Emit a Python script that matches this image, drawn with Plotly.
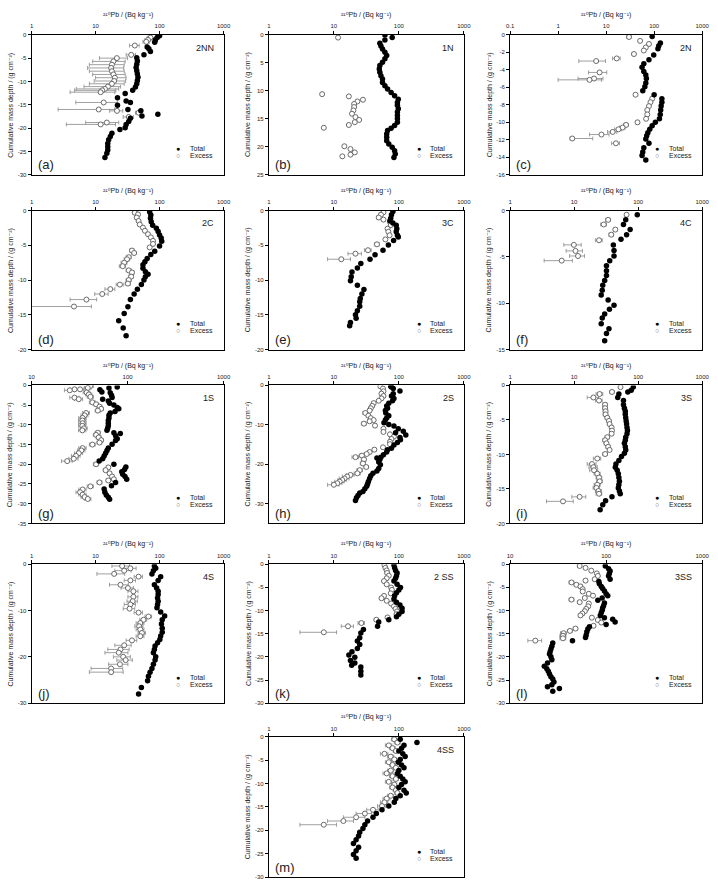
import math
import plotly.graph_objects as go

W, H = 718, 882

# ---------------- data (cumulative mass depth in g cm-2, 210Pb in Bq kg-1) ----------------
A_TOT_D = [-0.2,-0.6,-1.1,-1.6,-2.6,-3.0,-3.6,-4.3,-4.9,-5.6,-6.3,-7.0,-7.7,-8.4,-9.1,-9.8,-10.5,-11.2,
           -11.9,-12.6,-13.5,-14.2,-14.5,-15.1,-16.0,-16.3,-17.0,-17.4,-17.9,-18.6,-19.2,-19.9,-20.3,-21.1,
           -21.8,-22.5,-23.3,-24.0,-24.7,-25.4,-26.3]
A_TOT_V = [100,92,86,84,64,68,72,57,44,45,44,43,44,45,46,45,44,42,
           38,29,22,30,35,22,32,51,94,53,35,33,30,29,24,18,17,16,15.5,15.5,15.5,15,14]
A_EXC_D = [-0.2,-0.6,-1.1,-1.5,-2.3,-4.3,-5.0,-5.7,-6.4,-7.1,-7.8,-8.5,-9.2,-9.9,-10.5,-11.1,-11.6,-11.9,
           -12.3,-14.5,-16.0,-16.3,-16.7,-17.6,-18.8,-19.2]
A_EXC_V = [79,72,66,62,41,36,21.5,19,18,17.5,18,19,20,19.5,18,15.6,14,12.7,12,13.4,11.2,21.6,47,33,15,12]
A_EXC_E = [8,8,7,7,7,6,10,10,10,10,10,10,10,10,10,9,9,8,8,8.5,8.6,5,5,6,8,8.5]

B_TOT_D = [0.06,0.5,0.95,1.5,2.0,2.55,3.1,3.7,4.3,4.9,5.5,6.1,6.7,7.3,7.9,8.5,9.1,9.7,10.3,10.9,
           11.5,12.1,12.6,13.2,13.8,14.4,15.0,15.6,16.2,16.7,17.1,17.7,18.3,18.9,19.5,20.1,20.7,21.3,21.9]
B_TOT_V = [61,79,61,51,53,56,61,65,61,56,51,50,51,53,56,56,61,67,76,86,
           98,95,95,98,95,95,95,95,86,76,67,65,65,65,70,79,86,88,84]
B_EXC_D = [0.5,10.6,11.0,11.6,11.9,12.35,12.9,13.5,14.1,14.7,15.2,15.6,16.1,16.6,19.9,20.4,21.0,21.4,21.7]
B_EXC_V = [11.6,6.6,17,28,23,20.5,20.5,20,19,21.5,24.5,21,17,7,14.5,18,21,18,13.5]
B_EXC_E = [0,0,0,0,0,0,0,0,0,0,0,0,0,0,0,0,0,0,0]

C_TOT_D = [-0.2,-0.95,-1.25,-1.6,-2.3,-2.85,-3.3,-3.7,-4.2,-4.6,-5.0,-5.5,-5.95,-6.4,-6.85,-7.3,
           -7.7,-8.15,-8.6,-9.1,-9.6,-10.0,-10.4,-10.8,-11.2,-11.55,-11.9,-12.4,-12.9,-13.4,-13.8,-14.3]
C_TOT_V = [91,135,125,120,98,78,61,56,61,67,69,67,64,58,100,145,145,140,137,134,129,106,91,81,74,70,67,78,61,58,56,67]
C_EXC_D = [-0.25,-0.7,-1.05,-1.45,-1.8,-2.2,-2.7,-3.0,-4.3,-5.0,-5.15,-6.85,-7.3,-7.7,-8.15,-8.6,-9.1,-9.6,
           -10.0,-10.3,-10.6,-10.8,-11.1,-11.4,-11.85,-12.4]
C_EXC_V = [30,51,78,67,61,38,16.6,6.2,7.3,5.6,4.5,41,91,84,78,72,72,68,45,26,22,18,13.7,8,1.97,16]
C_EXC_E = [3,3,3,3,3,3,3,3.5,3,3,3.5,3,4,4,4,4,4,4,3,3,3,3,3,3.5,3.3,3]
C_EXC_EM = [3,3,3,3,3,3,3,3.5,3,3,3.5,3,4,4,4,4,4,4,3,3,3,3,3,3.5,0.2,3]

D_TOT_D = [-0.2,-0.65,-1.1,-1.6,-2.1,-2.55,-3.0,-3.5,-3.95,-4.4,-5.1,-5.85,-6.3,-6.9,-7.35,-7.8,-8.3,-8.8,
           -9.15,-9.5,-10.0,-10.65,-11.3,-12.0,-12.8,-13.85,-14.8,-15.85,-16.9,-18.0]
D_TOT_V = [70,73,72,74,78,89,95,100,106,108,100,84,73,64,59,55,55,60,66,60,57,52,45,40,35,32,28,23,27,30]
D_EXC_D = [-0.3,-0.55,-1.0,-1.5,-2.0,-2.45,-2.9,-3.4,-3.85,-4.35,-4.8,-5.3,-5.75,-6.1,-6.7,-7.0,-7.5,-8.0,
           -8.6,-8.9,-9.5,-10.0,-10.5,-10.65,-11.3,-12.0,-12.8,-13.8]
D_EXC_V = [41,46,44,47,49,55,59,66,73,79,79,70,37,40,33,31,28,26.5,33,37,36,33,32,24,17,12.7,7.2,4.6]
D_EXC_E = [3,3,3,3,3,3,3,3,3,3,3,3,3,3,3,3,3,3,3,3,3,3,3,3,3,3,3.2,4]

E_TOT_D = [-0.15,-0.6,-1.1,-1.45,-1.8,-2.1,-2.6,-3.05,-3.55,-3.8,-4.3,-4.95,-5.7,-6.35,-7.0,-7.6,-8.25,
           -8.85,-9.5,-10.1,-10.75,-11.35,-12.0,-12.65,-13.1,-13.75,-14.4,-15.0,-15.5,-16.1,-16.55]
E_TOT_V = [81,77,75,73,81,91,93,91,95,98,83,69,57,43,36,26,23,19,18.5,18,23,29,27,25.5,25,25,23,21.5,22,18,17.5]
E_EXC_D = [-0.25,-0.6,-1.0,-1.3,-1.65,-2.1,-2.6,-3.05,-3.55,-4.15,-4.85,-5.7,-6.2,-7.0]
E_EXC_V = [58,53,49,58,73,75,67,69,72,62,46,33.5,21.5,13]
E_EXC_E = [3,3,3,3,3,3,3,3,3,3,4,4,5,5]

F_TOT_D = [-0.45,-1.0,-1.5,-2.05,-2.6,-3.1,-3.7,-4.3,-4.9,-5.4,-5.95,-6.5,-7.0,-7.55,-8.05,-8.6,-9.1,
           -9.65,-10.2,-10.65,-11.15,-11.6,-12.2,-12.75,-13.25,-14.05]
F_TOT_V = [97,64,59,75,66,54,41,42,42,36,32,32,32,30,28,27.5,26.5,34,42,35.6,30,27.5,26.5,35,32,30]
F_EXC_D = [-0.45,-1.0,-1.5,-2.05,-2.6,-3.2,-3.7,-4.35,-4.9,-5.4]
F_EXC_V = [66,34,29,44,38,24.5,9.9,10.5,11.5,6.4]
F_EXC_E = [3,3,3,3,3,3,3,3,3,3]

G_TOT_D = [-0.4,-0.65,-1.1,-1.65,-1.9,-2.5,-3.1,-3.5,-3.95,-4.55,-5.0,-5.6,-5.95,-6.6,-7.0,-7.6,-8.25,
           -8.9,-9.6,-10.25,-10.9,-11.4,-12.0,-12.2,-12.8,-13.5,-14.0,-14.9,-15.9,-16.5,-17.2,-17.9,-18.6,
           -19.2,-20.0,-20.7,-21.3,-21.9,-22.5,-23.1,-23.8,-24.6,-25.45,-26.3,-27.1,-27.8,-28.35,-28.9]
G_TOT_V = [78,64,51.5,54,66,68,69,55,63,65,72,78,81,74,66,64,64,63,63,63,62,61,72,84,75,78,75,69,63,61,
           59,57,55,50.6,72,96,93,87,89,94,98,75,68,57,58,60,63,65]
G_EXC_D = [-0.15,-0.65,-1.0,-1.0,-1.25,-1.8,-2.3,-2.9,-3.1,-3.5,-4.3,-4.8,-5.4,-5.95,-6.4,-7.0,-7.6,-8.25,
           -8.9,-9.6,-10.25,-10.9,-11.4,-12.0,-12.55,-13.2,-13.9,-14.5,-15.0,-15.9,-16.5,-17.2,-17.9,-18.6,
           -19.2,-20.0,-20.8,-21.5,-22.3,-23.1,-23.8,-24.1,-24.6,-25.6,-26.4,-27.1,-27.7,-28.3,-28.8]
G_EXC_V = [41,38.5,32,28,25,37.5,39.5,41,28,31,43,47,51,53,49,37,35.7,34,33.8,34,33.8,35,33.8,49,47,
           50,53,51,43,34,33,31,29,27.5,23.5,47,63,59,65,69,72,63,51,41,34,32,34,35.7,38.5]
G_EXC_E = [3,3,3,3,3,3,3,3,3,3,3,3,3,3,3,3,3,3,3,3,3,3,3,3,3,
           3,3,3,3,3,3,3,3,3,3,3,3,3,3,3,3,3,3,3,3,3,3,3,3]

H_TOT_D = [-0.25,-0.4,-0.8,-1.4,-2.1,-2.7,-3.3,-3.9,-4.5,-5.2,-5.8,-6.4,-7.0,-7.7,-8.3,-8.8,-9.5,-9.9,
           -10.3,-11.0,-11.6,-12.0,-12.6,-13.2,-13.8,-14.5,-15.1,-15.95,-16.3,-16.9,-17.6,-18.2,-18.4,-18.8,
           -19.4,-20.1,-21.1,-21.7,-22.3,-22.9,-23.6,-24.4,-25.0,-25.6,-26.2,-26.9,-27.3,-27.9,-28.5,-29.2]
H_TOT_V = [75,77,82,104,82,77,84,80,70,65,67,62,63,70,65,62,59,70,84,98,117,89,128,104,106,95,84,77,67,65,
           58,53,46,51,49,52,49,46,40,37,35.5,34,33,32,30,28,25,23.5,22.3,21.5]
H_EXC_D = [-0.25,-0.8,-1.5,-2.1,-2.7,-3.3,-3.9,-4.5,-5.2,-5.8,-6.4,-7.0,-7.7,-8.3,-8.8,-9.1,-9.7,-10.2,
           -11.0,-11.8,-12.4,-13.0,-13.6,-14.3,-14.9,-15.7,-16.3,-16.9,-17.4,-17.8,-18.2,-18.8,-19.8,-20.7,
           -21.5,-22.3,-22.7,-23.1,-23.6,-24.0,-24.4,-24.8,-25.2]
H_EXC_V = [52,57,58,54,58,54,49,41,39,37,35.5,30.5,34,37,41,35.5,29,43,58,58,73,84,77,73,73,57,42,35.5,
           32,27,21.5,29,28,31.5,25,23,18,16,14.6,13.5,12.3,11.3,10]
H_EXC_E = [2.5,2.5,2.5,2.5,2.5,2.5,2.5,2.5,2.5,2.5,2.5,2.5,2.5,2.5,2.5,2.5,2.5,2.5,2.5,2.5,2.5,2.5,
           2.5,2.5,2.5,2.5,2.5,2.5,2.5,2.5,2.5,2.5,2.5,2.5,2.5,2.5,2.5,2.5,2.5,2,2,2,2]

I_TOT_D = [-0.25,-0.7,-0.95,-1.25,-1.75,-2.2,-2.8,-3.3,-3.75,-4.2,-4.7,-5.15,-5.6,-6.1,-6.55,-7.0,-7.5,
           -7.95,-8.4,-8.9,-9.35,-9.85,-10.3,-10.9,-11.4,-11.85,-12.3,-12.8,-13.35,-13.9,-14.4,-14.85,
           -15.3,-15.7,-16.15,-16.7,-17.3,-18.0]
I_TOT_V = [84,78,69,50,48,59,59,61,63,63,64,65,66,67,68,67,64,63,61,63,64,61,55,50,45,44,47,49,50,51,
           50,49,51,52.5,39,31,28,25.5]
I_EXC_D = [-0.25,-0.95,-1.25,-1.75,-2.2,-2.8,-3.3,-3.75,-4.2,-4.7,-5.15,-5.6,-6.1,-6.55,-7.0,-7.5,-7.95,
           -8.4,-8.9,-9.35,-9.95,-10.6,-11.4,-11.85,-12.3,-12.8,-13.35,-13.9,-14.4,-14.85,-15.3,-15.7,
           -16.15,-16.8]
I_EXC_V = [53,39,25,20,24.5,30.5,30.5,31,31,33,35,35.8,38.5,39,38.5,33,30.5,32,34,35.8,30.5,23,19,20,
           20.5,23,24.5,25,23,22.3,24,24.5,12.2,6.7]
I_EXC_E = [3,3,3,4,3,2.5,2.5,2.5,2.5,2.5,2.5,2.5,2.5,2.5,2.5,2.5,2.5,2.5,2.5,2.5,2.5,3,3,3,3,2.5,
           2.5,2.5,2.5,2.5,2.5,2.5,3,3]

J_TOT_D = [-0.4,-0.9,-1.4,-2.1,-2.7,-3.5,-4.45,-5.15,-5.85,-6.55,-7.3,-8.0,-8.7,-9.4,-10.3,-11.2,-12.0,
           -12.9,-13.85,-14.7,-15.5,-16.25,-16.95,-17.65,-18.4,-19.1,-20.0,-20.7,-21.6,-22.5,-23.3,-24.2,
           -25.15,-26.6,-28.0]
J_TOT_V = [83,87,80,76,104,95,83,90,95,95,93,95,93,91,104,120,110,107,110,110,104,101,93,85,83,80,87,
           85,80,76,71,67,65,52,47]
J_EXC_D = [-0.4,-0.9,-1.4,-2.1,-2.7,-3.5,-4.45,-5.15,-5.85,-7.05,-8.0,-8.7,-9.6,-10.45,-11.3,-12.0,
           -12.7,-13.4,-14.1,-14.85,-15.55,-16.45,-17.5,-18.4,-19.1,-20.0,-20.7,-21.6,-22.5,-23.3]
J_EXC_V = [26,35,28,19.5,47,35,24.5,32,39,39,38,35,34,47,67,56,50,48,50,53,50,37,28,24.5,23,27,29.5,
           24,17.5,17.5]
J_EXC_E = [8,8,8,9,7,7,8,7,7,7,7,7,7,7,8,7,7,7,7,7,7,7,8,9,9,8,8,8,9,9.5]

K_TOT_D = [-0.2,-0.8,-1.35,-1.9,-2.5,-3.05,-3.65,-4.35,-5.05,-5.55,-6.15,-6.8,-7.5,-8.2,-8.8,-9.5,
           -10.2,-10.8,-11.35,-12.0,-12.5,-13.4,-14.1,-14.85,-15.9,-16.6,-17.35,-18.2,-18.9,-19.6,-20.1,
           -20.8,-21.3,-21.8,-22.2,-23.1,-23.9]
K_TOT_V = [84,86,89,94,92,89,84,94,106,100,92,86,84,92,104,112,112,100,92,70,49,47,28.5,26,25,23,25,
           23,19,17,21,18,21,18.8,26,26,26]
K_EXC_D = [-0.2,-0.8,-1.35,-1.9,-2.5,-3.05,-3.65,-4.35,-5.05,-5.55,-6.3,-6.85,-7.35,-7.9,-8.5,-9.1,
           -9.65,-10.2,-10.8,-11.5,-12.0,-12.7,-13.4,-14.7]
K_EXC_V = [60,62,65,66,70,65,59,65,76,78,75,59,54,65,76,84,89,94,92,67,45,26.5,16.5,7]
K_EXC_E = [3,3,3,3,3,3,3,3,3,3,3,3,3,3,3,3,3,3,3,3,3,3,3.5,4]

L_TOT_D = [-0.4,-1.0,-1.5,-2.0,-2.55,-3.25,-3.75,-4.25,-4.8,-5.25,-5.8,-6.4,-6.8,-7.3,-7.8,-8.4,-8.95,
           -9.45,-9.95,-10.5,-11.05,-11.55,-11.9,-12.5,-13.0,-13.5,-14.0,-14.6,-15.3,-15.8,-16.5,-17.0,
           -17.7,-18.3,-18.9,-19.4,-20.0,-20.6,-21.3,-22.0,-22.55,-23.1,-23.7,-24.3,-24.8,-25.4,-26.0,
           -26.45,-26.8,-27.4]
L_TOT_V = [98,106,110,108,106,110,84,85,89,92,96,100,104,91,82,96,94,92,91,89,87,96,117,124,100,67,
           64.5,63,62,61,44.6,27.8,27.2,26.6,26.1,25.7,26.6,27.2,24.5,22.7,24.1,25,25.7,26.6,27.8,28.6,
           27.2,24.5,32.6,27.8]
L_EXC_D = [-0.4,-0.8,-1.4,-2.0,-2.55,-3.25,-3.55,-3.95,-4.45,-4.8,-5.4,-5.9,-6.4,-6.8,-7.3,-7.65,-8.2,
           -8.5,-9.1,-9.65,-10.15,-10.65,-11.05,-11.55,-12.05,-12.6,-13.3,-13.9,-14.4,-14.9,-15.45,-16.0,-16.5]
L_EXC_V = [53,61,70,80,82,76,61,43.6,49,54,57,57,66,73,60,43.6,53,66,65,62,60,56.6,54,71,82,89,74,48,
           42,36,35.5,35.5,18.3]
L_EXC_E = [2.5,2.5,2.5,2.5,2.5,2.5,2.5,2.5,2.5,2.5,2.5,2.5,2.5,2.5,2.5,2.5,2.5,2.5,2.5,2.5,2.5,2.5,
           2.5,2.5,2.5,2.5,2.5,2.5,2.5,2.5,2.5,2.5,3]

M_TOT_D = [-0.5,-1.2,-1.8,-2.4,-3.0,-3.6,-4.2,-4.8,-5.4,-6.0,-6.6,-7.2,-7.8,-8.4,-9.0,-9.6,-10.2,-10.8,
           -11.4,-12.0,-12.6,-13.2,-14.0,-14.8,-15.6,-16.4,-17.2,-18.0,-18.8,-19.6,-20.4,-21.2,-22.0,-22.8,
           -23.6,-24.4,-25.2,-26.0]
M_TOT_V = [105,190,120,110,100,115,125,105,98,110,120,100,95,105,115,125,110,100,120,130,105,90,85,70,
           55,45,40,33,30,28,25,24,22,20,24,22,20,22]
M_EXC_D = [-0.5,-1.2,-1.8,-2.4,-3.0,-3.6,-4.2,-4.8,-5.4,-6.0,-6.6,-7.2,-7.8,-8.4,-9.0,-9.6,-10.2,-10.8,
           -11.4,-12.0,-12.6,-13.2,-14.0,-14.8,-15.6,-16.4,-17.2,-18.0,-18.8]
M_EXC_V = [85,95,70,80,90,60,75,85,70,80,90,75,65,80,90,70,85,80,90,95,75,65,60,55,40,30,22,14,7]
M_EXC_E = [8,10,8,8,8,8,8,8,8,8,8,8,8,8,8,8,8,8,8,8,8,8,8,8,8,8,8,6,4]

# ---------------- panel definitions ----------------
SITES = ["2NN", "1N", "2N", "2C", "3C", "4C", "1S", "2S", "3S", "4S", "2 SS", "3SS", "4SS"]
LETTERS = ["(a)", "(b)", "(c)", "(d)", "(e)", "(f)", "(g)", "(h)", "(i)", "(j)", "(k)", "(l)", "(m)"]
X_TITLE = "²¹⁰Pb / (Bq kg⁻¹)"
Y_TITLE = "Cumulative mass depth / (g cm⁻²)"
X_TICKS = {
    "std": [1, 10, 100, 1000],
    "wide": [0.1, 1, 10, 100, 1000],
    "narrow": [10, 100, 1000],
}
Y_TICKS = {
    "a": [0, -5, -10, -15, -20, -25, -30],
    "b": [0, 5, 10, 15, 20, 25],
    "c": [0, -2, -4, -6, -8, -10, -12, -14, -16],
    "d": [0, -5, -10, -15, -20],
    "e": [0, -5, -10, -15, -20],
    "f": [0, -5, -10, -15],
    "g": [0, -5, -10, -15, -20, -25, -30, -35],
    "h": [0, -10, -20, -30],
    "i": [0, -5, -10, -15, -20],
    "j": [0, -10, -20, -30],
    "k": [0, -5, -10, -15, -20, -25, -30],
    "l": [0, -5, -10, -15, -20, -25, -30],
    "m": [0, -5, -10, -15, -20, -25, -30],
}
Y_RANGE = {"a": [-30, 0], "b": [25, 0], "c": [-16, 0], "d": [-20, 0], "e": [-20, 0], "f": [-15, 0],
           "g": [-35, 0], "h": [-35, 0], "i": [-20, 0], "j": [-30, 0], "k": [-30, 0], "l": [-30, 0],
           "m": [-30, 0]}
X_KIND = {"a": "std", "b": "std", "c": "wide", "d": "std", "e": "std", "f": "std", "g": "narrow",
          "h": "std", "i": "std", "j": "std", "k": "std", "l": "narrow", "m": "std"}
DATA = {
    "a": (A_TOT_D, A_TOT_V, A_EXC_D, A_EXC_V, A_EXC_E, A_EXC_E),
    "b": (B_TOT_D, B_TOT_V, B_EXC_D, B_EXC_V, B_EXC_E, B_EXC_E),
    "c": (C_TOT_D, C_TOT_V, C_EXC_D, C_EXC_V, C_EXC_E, C_EXC_EM),
    "d": (D_TOT_D, D_TOT_V, D_EXC_D, D_EXC_V, D_EXC_E, D_EXC_E),
    "e": (E_TOT_D, E_TOT_V, E_EXC_D, E_EXC_V, E_EXC_E, E_EXC_E),
    "f": (F_TOT_D, F_TOT_V, F_EXC_D, F_EXC_V, F_EXC_E, F_EXC_E),
    "g": (G_TOT_D, G_TOT_V, G_EXC_D, G_EXC_V, G_EXC_E, G_EXC_E),
    "h": (H_TOT_D, H_TOT_V, H_EXC_D, H_EXC_V, H_EXC_E, H_EXC_E),
    "i": (I_TOT_D, I_TOT_V, I_EXC_D, I_EXC_V, I_EXC_E, I_EXC_E),
    "j": (J_TOT_D, J_TOT_V, J_EXC_D, J_EXC_V, J_EXC_E, J_EXC_E),
    "k": (K_TOT_D, K_TOT_V, K_EXC_D, K_EXC_V, K_EXC_E, K_EXC_E),
    "l": (L_TOT_D, L_TOT_V, L_EXC_D, L_EXC_V, L_EXC_E, L_EXC_E),
    "m": (M_TOT_D, M_TOT_V, M_EXC_D, M_EXC_V, M_EXC_E, M_EXC_E),
}
KEYS = list("abcdefghijklm")

# layout geometry in pixels
COL_X = [(28, 223), (269, 467), (514, 709)]
ROW_Y = [(32, 173), (209, 349), (385, 524), (565, 705), (739, 880)]
GRID = [(0, 0), (1, 0), (2, 0), (0, 1), (1, 1), (2, 1), (0, 2), (1, 2), (2, 2), (0, 3), (1, 3), (2, 3), (1, 4)]

FONT = "Liberation Sans, Arial, DejaVu Sans, sans-serif"
TXT = "#222222"
EXC_COLOR = "#6a6a6a"


def px(x):
    return x / W


def py(y):
    return 1 - y / H


fig = go.Figure()
layout = dict(width=W, height=H, margin=dict(l=0, r=0, t=0, b=0), paper_bgcolor="white",
              plot_bgcolor="white", showlegend=False, font=dict(family=FONT, color=TXT))
annotations = []

for i, key in enumerate(KEYS, start=1):
    sfx = "" if i == 1 else str(i)
    col, row = GRID[i - 1]
    x0, x1 = COL_X[col]
    y0, y1 = ROW_Y[row]
    xt = X_TICKS[X_KIND[key]]
    yt = Y_TICKS[key]
    axis_common = dict(showline=True, linecolor="black", linewidth=1, mirror=True,
                       ticks="outside", ticklen=3, tickwidth=1, tickcolor="black",
                       showgrid=False, zeroline=False, tickfont=dict(size=6, color=TXT))
    layout["xaxis" + sfx] = dict(
        domain=[px(x0), px(x1)], anchor="y" + sfx, type="log",
        range=[math.log10(xt[0]), math.log10(xt[-1])], side="top",
        tickvals=xt, ticktext=[f"{v:g}" for v in xt], **axis_common)
    layout["yaxis" + sfx] = dict(
        domain=[py(y1), py(y0)], anchor="x" + sfx, range=Y_RANGE[key],
        tickvals=yt, ticktext=[f"{v:g}" for v in yt], **axis_common)

    td, tv, ed, ev, ee, eem = DATA[key]
    fig.add_trace(go.Scatter(
        x=ev, y=ed, mode="markers", name="Excess", xaxis="x" + sfx, yaxis="y" + sfx,
        marker=dict(symbol="circle", size=5, color="white", line=dict(color=EXC_COLOR, width=1)),
        error_x=dict(type="data", array=ee, arrayminus=eem, symmetric=False,
                     color="#888888", thickness=0.8, width=2)))
    fig.add_trace(go.Scatter(
        x=tv, y=td, mode="markers", name="Total", xaxis="x" + sfx, yaxis="y" + sfx,
        marker=dict(symbol="circle", size=5.5, color="black")))

    # axis titles
    annotations.append(dict(text=X_TITLE, x=px((x0 + x1) / 2), y=py(y0 - 20),
                            xref="paper", yref="paper", showarrow=False, font=dict(size=7, color=TXT),
                            xanchor="center", yanchor="middle"))
    annotations.append(dict(text=Y_TITLE, x=px(x0 - 21), y=py((y0 + y1) / 2), xref="paper", yref="paper",
                            showarrow=False, textangle=-90, font=dict(size=7, color=TXT),
                            xanchor="center", yanchor="middle"))
    # site label and panel letter
    annotations.append(dict(text=SITES[i - 1], x=px(x1 - 8), y=py(y0 + 13), xref="paper", yref="paper",
                            showarrow=False, font=dict(size=9, color=TXT), xanchor="right", yanchor="middle"))
    annotations.append(dict(text=LETTERS[i - 1], x=px(x0 + 4), y=py(y1 - 10), xref="paper", yref="paper",
                            showarrow=False, font=dict(size=13, color=TXT), xanchor="left", yanchor="middle"))
    # legend
    for sym, lab, dy, colr in (("●", "Total", 26, "black"), ("○", "Excess", 19, EXC_COLOR)):
        annotations.append(dict(text=sym, x=px(x1 - 46), y=py(y1 - dy), xref="paper", yref="paper",
                                showarrow=False, font=dict(size=7, color=colr), xanchor="center",
                                yanchor="middle"))
        annotations.append(dict(text=lab, x=px(x1 - 36), y=py(y1 - dy), xref="paper", yref="paper",
                                showarrow=False, font=dict(size=7, color=TXT), xanchor="left",
                                yanchor="middle"))

layout["annotations"] = annotations
fig.update_layout(**layout)
fig.write_html("out.html")
